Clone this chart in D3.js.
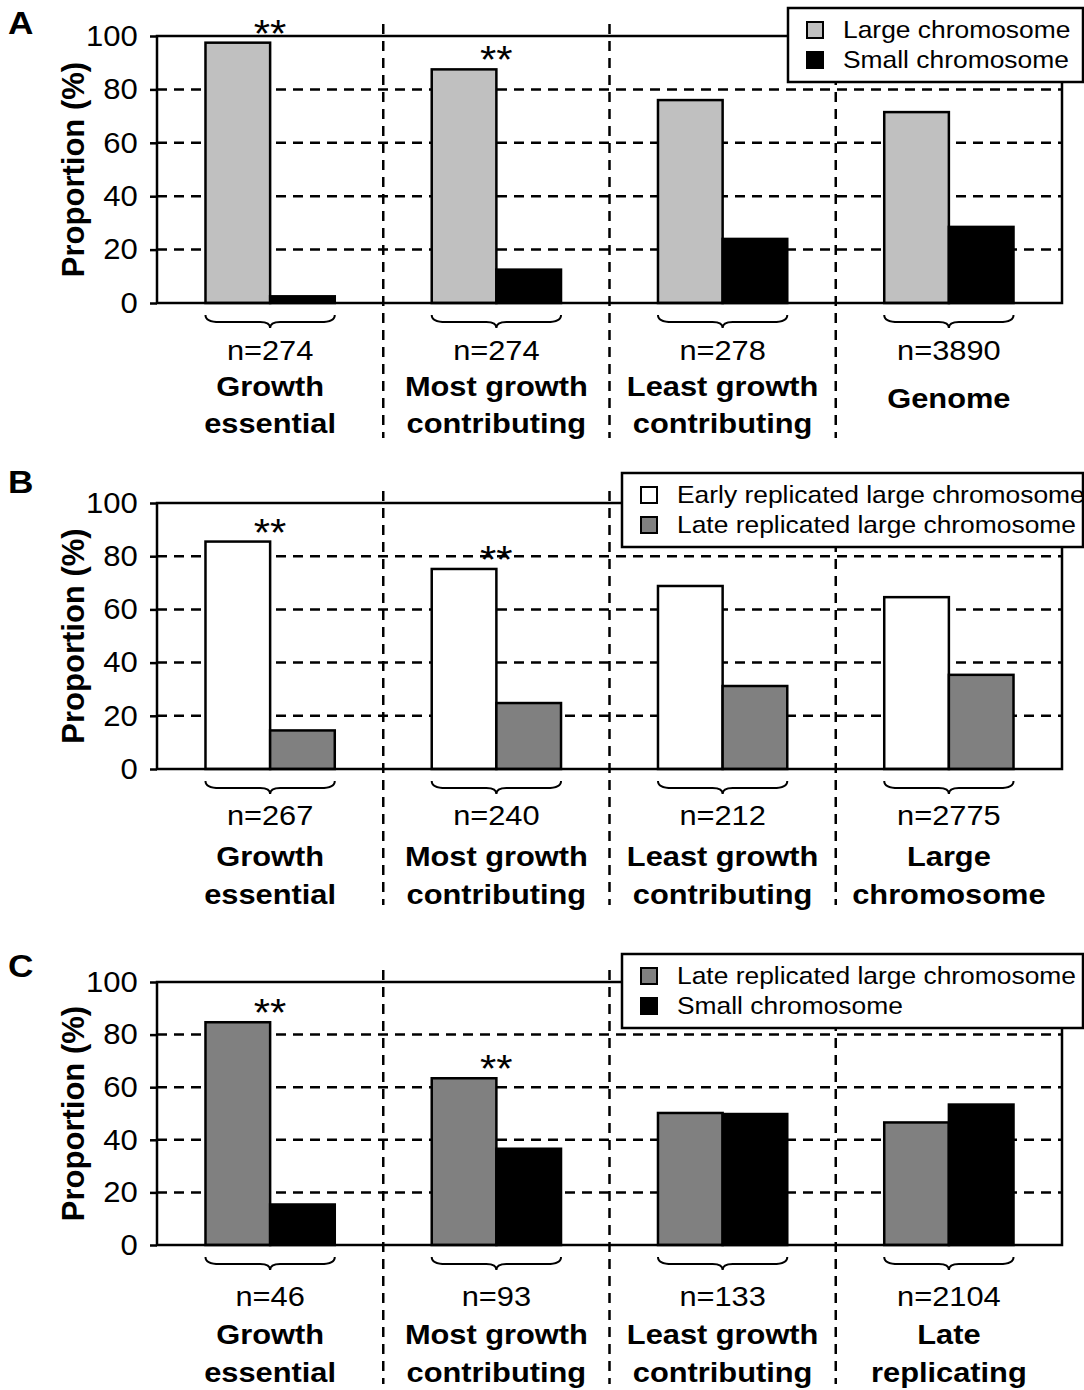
<!DOCTYPE html>
<html>
<head>
<meta charset="utf-8">
<script src="https://cdn.jsdelivr.net/npm/d3@7"></script>
<style>
  body { margin: 0; background: #fff; }
  svg { display: block; font-family: "Liberation Sans", Arial, sans-serif; }
</style>
</head>
<body>
<svg id="chart" width="1084" height="1390"></svg>
<script>
// ---- data ----
var groupKeys = ["ge", "most", "least", "ref"]

var labelsA = [["Growth", "essential"], ["Most growth", "contributing"], ["Least growth", "contributing"], ["Genome"]]
var labelsB = [["Growth", "essential"], ["Most growth", "contributing"], ["Least growth", "contributing"], ["Large", "chromosome"]]
var labelsC = [["Growth", "essential"], ["Most growth", "contributing"], ["Least growth", "contributing"], ["Late", "replicating"]]

var countsA = ["n=274", "n=274", "n=278", "n=3890"]
var countsB = ["n=267", "n=240", "n=212", "n=2775"]
var countsC = ["n=46", "n=93", "n=133", "n=2104"]

var seriesA = ["Large chromosome", "Small chromosome"]
var seriesB = ["Early replicated large chromosome", "Late replicated large chromosome"]
var seriesC = ["Late replicated large chromosome", "Small chromosome"]

var largeA = [97.5, 87.5, 76, 71.5]
var smallA = [2.5, 12.5, 24, 28.5]
var earlyB = [85.5, 75.2, 68.8, 64.6]
var lateB = [14.5, 24.8, 31.2, 35.4]
var lateC = [84.7, 63.4, 50.2, 46.6]
var smallC = [15.4, 36.6, 49.8, 53.4]

var signif = [true, true, false, false]
var yTicks = [0, 20, 40, 60, 80, 100]

// ---- layout ----
var left = 157, right = 1062
var panels = [
  {letter: "A", letterY: 34, top: 36, h: 267, labels: labelsA, counts: countsA, series: seriesA,
   values: [largeA, smallA], colors: ["#c0c0c0", "#000"], nOff: 57, l1: 93, l2: 130,
   legend: {x: 788, y: 8}},
  {letter: "B", letterY: 493, top: 503, h: 266, labels: labelsB, counts: countsB, series: seriesB,
   values: [earlyB, lateB], colors: ["#fff", "#808080"], nOff: 56, l1: 97, l2: 135,
   legend: {x: 622, y: 473}},
  {letter: "C", letterY: 977, top: 982, h: 263, labels: labelsC, counts: countsC, series: seriesC,
   values: [lateC, smallC], colors: ["#808080", "#000"], nOff: 61, l1: 99, l2: 137,
   legend: {x: 622, y: 954}}
]

const svg = d3.select("#chart")

function txt(g, x, y, s, size, weight, anchor) {
  return g.append("text")
    .attr("transform", `translate(${x},${y}) scale(1.1,1)`)
    .attr("text-anchor", anchor || "middle")
    .attr("font-size", size)
    .attr("font-weight", weight || "normal")
    .attr("fill", "#000")
    .text(s)
}

var x0 = d3.scaleBand().domain(groupKeys).range([left, right])
var x1 = d3.scaleBand().domain([0, 1]).range([0, x0.bandwidth()]).paddingOuter(0.75)

panels.forEach(function(p) {
  var g = svg.append("g")
  var bottom = p.top + p.h
  var y = d3.scaleLinear().domain([0, 100]).range([bottom, p.top])

  // grid
  g.selectAll(".grid").data([20, 40, 60, 80]).enter().append("line")
    .attr("x1", left).attr("x2", right)
    .attr("y1", d => y(d)).attr("y2", d => y(d))
    .attr("stroke", "#000").attr("stroke-width", 2.5)
    .attr("stroke-dasharray", "10,7")

  // group dividers
  g.selectAll(".div").data(groupKeys.slice(1)).enter().append("line")
    .attr("x1", d => x0(d)).attr("x2", d => x0(d))
    .attr("y1", p.top - 12).attr("y2", p.top + 402)
    .attr("stroke", "#000").attr("stroke-width", 2.5)
    .attr("stroke-dasharray", "10,7")

  // bars
  var rows = groupKeys.map((k, i) => ({key: k, i: i, vals: p.values.map(v => v[i])}))
  var grp = g.selectAll(".grp").data(rows).enter().append("g")
    .attr("transform", d => `translate(${x0(d.key)},0)`)
  grp.selectAll("rect").data(d => d.vals).enter().append("rect")
    .attr("x", (d, j) => x1(j))
    .attr("width", x1.bandwidth())
    .attr("y", d => y(d))
    .attr("height", d => bottom - y(d))
    .attr("fill", (d, j) => p.colors[j])
    .attr("stroke", "#000").attr("stroke-width", 2.5)

  // frame
  g.append("rect")
    .attr("x", left).attr("y", p.top)
    .attr("width", right - left).attr("height", p.h)
    .attr("fill", "none").attr("stroke", "#000").attr("stroke-width", 2.5)

  // y axis
  var ax = g.append("g").attr("transform", `translate(${left},0)`)
    .call(d3.axisLeft(y).tickValues(yTicks).tickSize(7).tickPadding(11))
  ax.select(".domain").remove()
  ax.selectAll(".tick line").attr("stroke", "#000").attr("stroke-width", 2.5)
  ax.selectAll(".tick text")
    .attr("font-size", 29).attr("font-family", "Liberation Sans, Arial, sans-serif")
    .attr("fill", "#000").attr("transform", "scale(1.07,1)")

  g.append("text")
    .attr("transform", `translate(84,${(p.top + bottom) / 2}) rotate(-90)`)
    .attr("text-anchor", "middle").attr("font-size", 31).attr("font-weight", "bold")
    .text("Proportion (%)")

  txt(g, 8, p.letterY, p.letter, 32, "bold", "start")

  // significance stars
  rows.filter(d => signif[d.i]).forEach(function(d) {
    txt(g, x0(d.key) + x0.bandwidth() / 2, y(d3.max(d.vals)) + 4, "**", 38)
  })

  // braces + labels
  rows.forEach(function(d) {
    var bx0 = x0(d.key) + x1(0), bx1 = x0(d.key) + x1(1) + x1.bandwidth()
    var mx = (bx0 + bx1) / 2, yt = bottom + 12, ym = bottom + 19, yb = bottom + 25
    g.append("path")
      .attr("d", `M${bx0},${yt} Q${bx0},${ym} ${bx0 + 14},${ym} L${mx - 10},${ym} Q${mx},${ym} ${mx},${yb} Q${mx},${ym} ${mx + 10},${ym} L${bx1 - 14},${ym} Q${bx1},${ym} ${bx1},${yt}`)
      .attr("fill", "none").attr("stroke", "#000").attr("stroke-width", 2)

    var cx = x0(d.key) + x0.bandwidth() / 2
    txt(g, cx, bottom + p.nOff, p.counts[d.i], 28)
    var lines = p.labels[d.i]
    if (lines.length == 1) {
      txt(g, cx, bottom + p.l1 + 12, lines[0], 28, "bold")
    } else {
      txt(g, cx, bottom + p.l1, lines[0], 28, "bold")
      txt(g, cx, bottom + p.l2, lines[1], 28, "bold")
    }
  })

  // legend
  var lg = g.append("g").attr("transform", `translate(${p.legend.x},${p.legend.y})`)
  lg.append("rect").attr("x", 0).attr("y", 0)
    .attr("width", 1083 - p.legend.x).attr("height", 74)
    .attr("fill", "#fff").attr("stroke", "#000").attr("stroke-width", 2.5)
  p.series.forEach(function(s, j) {
    var cy = 22 + j * 30
    lg.append("rect").attr("x", 19).attr("y", cy - 8).attr("width", 16).attr("height", 16)
      .attr("fill", p.colors[j]).attr("stroke", "#000").attr("stroke-width", 2)
    txt(lg, 55, cy + 8, s, 24, "normal", "start")
  })
})
</script>
</body>
</html>
